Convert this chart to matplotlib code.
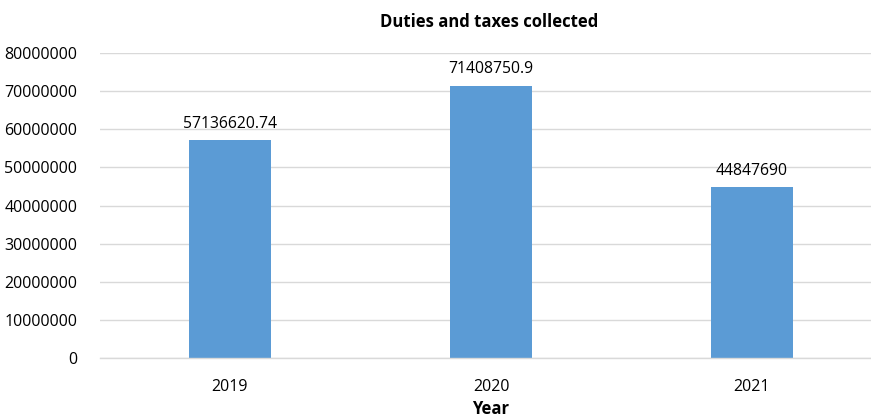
import matplotlib
matplotlib.use("Agg")
import matplotlib.pyplot as plt

years = ["2019", "2020", "2021"]
collected = [57136620.74, 71408750.9, 44847690]
value_labels = ["57136620.74", "71408750.9", "44847690"]

plt.rcParams["font.family"] = ["Open Sans", "DejaVu Sans"]

fig = plt.figure(figsize=(8.71, 4.19), dpi=100)
ax = fig.add_axes([99.5 / 871, 61 / 419, 783 / 871, 305 / 419])

x = range(len(years))
bars = ax.bar(x, collected, width=0.315, color="#5B9BD5", zorder=3)

for rect, lab in zip(bars, value_labels):
    ax.annotate(lab, (rect.get_x() + rect.get_width() / 2, rect.get_height()),
                xytext=(0, 6), textcoords="offset points",
                ha="center", va="bottom", fontsize=11.3, color="#000000")

ax.set_xlim(-0.5, 2.5)
ax.set_ylim(0, 80000000)
ax.set_yticks(range(0, 80000001, 10000000))
ax.set_yticklabels([str(v) for v in range(0, 80000001, 10000000)])
ax.set_xticks(list(x))
ax.set_xticklabels(years)
ax.tick_params(length=0, labelsize=11.5, colors="#000000", pad=15)
ax.tick_params(axis="y", pad=16)

ax.grid(axis="y", color="#D9D9D9", linewidth=1, zorder=0)
for side in ["left", "right", "top"]:
    ax.spines[side].set_visible(False)
ax.spines["bottom"].set_color("#D9D9D9")
ax.spines["bottom"].set_linewidth(1)
ax.spines["bottom"].set_zorder(4)

fig.text(489 / 871, 1 - 22 / 419, "Duties and taxes collected",
         ha="center", va="center", fontsize=12, fontweight="bold")
fig.text(491 / 871, 1 - 409 / 419, "Year",
         ha="center", va="center", fontsize=12, fontweight="bold")

fig.savefig("out.png", dpi=100)
